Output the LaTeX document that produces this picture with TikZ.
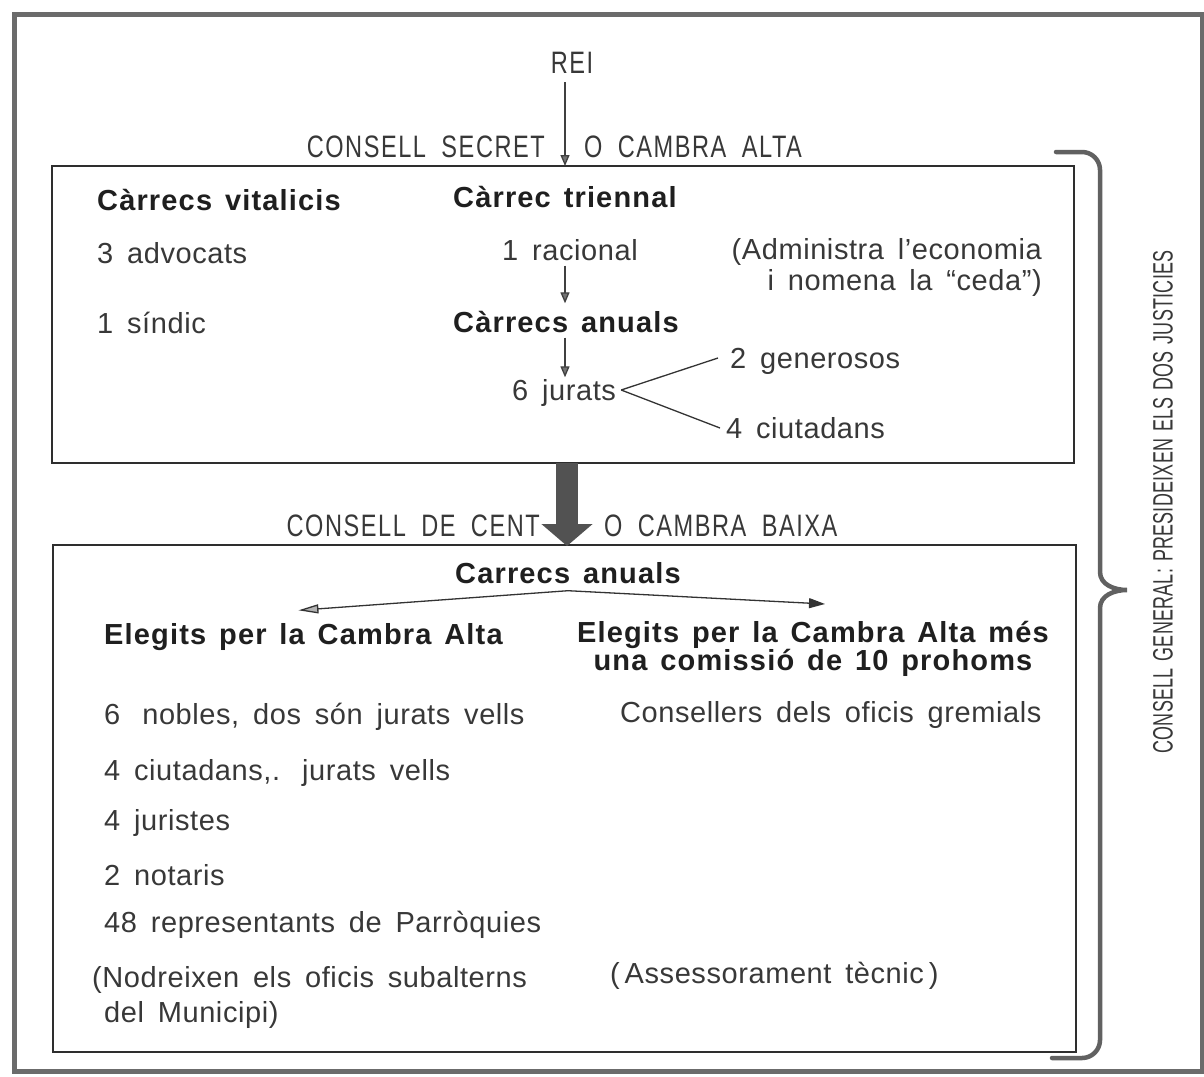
\documentclass[tikz,border=0pt]{standalone}
\usepackage{fontspec}
\setmainfont{Liberation Sans}
\newfontfamily\regf[LetterSpace=2,WordSpace=1.6]{Liberation Sans}
\newfontfamily\boldf[LetterSpace=4,WordSpace=1.4]{Liberation Sans}
\newfontfamily\condf[FakeStretch=0.76,LetterSpace=5,WordSpace=1.9]{Liberation Sans}
\newfontfamily\vertf[FakeStretch=0.64,LetterSpace=1,WordSpace=1.3]{Liberation Sans}
\usetikzlibrary{arrows.meta}
\begin{document}
\begin{tikzpicture}[x=1pt,y=-1pt,
  txt/.style={inner sep=0pt, anchor=west, text=black!78, text height=21pt, text depth=0pt,
    font=\regf\fontsize{29}{35}\selectfont},
  btxt/.style={inner sep=0pt, anchor=west, text=black!88, text height=21pt, text depth=0pt,
    font=\boldf\bfseries\fontsize{29}{28}\selectfont},
  ctxt/.style={inner sep=0pt, text=black!78, text height=22pt, text depth=0pt,
    font=\condf\fontsize{31}{31}\selectfont},
  boxline/.style={draw=black!82, line width=1.6pt},
  arr/.style={draw=black!75, line width=1.3pt, -{Triangle[length=11pt,width=9pt,fill=black!55]}},
]
\useasboundingbox (0,0) rectangle (1204,1076);
\fill[white] (0,0) rectangle (1204,1076);
% outer frame
\draw[draw=black!58, line width=5pt] (14,14) rectangle (1202,1071);
% boxes
\draw[boxline] (52,166) rectangle (1074,463);
\draw[boxline] (53,545) rectangle (1076,1052);
\coordinate (colx) at (565,0);
\coordinate (boxtop) at (565,166);
\coordinate (b1) at (567,463);
\coordinate (b2) at (567,546);

% top
\node[ctxt] (rei) at (572,62) {REI};
\node[ctxt, anchor=east] (cs) at (545,146) {CONSELL SECRET};
\node[ctxt, anchor=west] (oca) at (584,146) {O CAMBRA ALTA};
\draw[arr, shorten <=9pt] (rei.south -| colx) -- (boxtop);

% upper box
\node[btxt] (cv) at (97,200) {Càrrecs vitalicis};
\node[btxt] (ct) at (453,197) {Càrrec triennal};
\node[txt] (adv) at (97,253) {3 advocats};
\node[txt] (rac) at (502,250) {1 racional};
\node[inner sep=0pt, anchor=north east, align=right, text=black!78,
  font=\regf\fontsize{29}{31}\selectfont] (adm) at (1042,238) {(Administra l’economia\\i nomena la “ceda”)};
\node[txt] (sin) at (97,323) {1 síndic};
\node[btxt] (can) at (453,322) {Càrrecs anuals};
\node[txt] (jur) at (512,390) {6 jurats};
\node[txt] (gen) at (730,358) {2 generosos};
\node[txt] (ciu) at (726,428) {4 ciutadans};
\draw[arr, shorten <=5pt, shorten >=8pt] (rac.south -| colx) -- (can.north -| colx);
\draw[arr, shorten <=5pt, shorten >=2pt] (can.south -| colx) -- (jur.north -| colx);
\draw[draw=black!80, line width=1.3pt] ([xshift=5pt]jur.east) -- ([xshift=-12pt]gen.west);
\draw[draw=black!80, line width=1.3pt] ([xshift=5pt]jur.east) -- ([xshift=-6pt]ciu.west);

% big arrow
\draw[draw=black!68, line width=22pt, -{Triangle[length=22pt,width=50pt]}] (b1) -- (b2);
\node[ctxt, anchor=east] (cdc) at (540,525) {CONSELL DE CENT};
\node[ctxt, anchor=west] (ocb) at (604,525) {O CAMBRA BAIXA};

% lower box
\node[btxt, anchor=center] (ca2) at (568,573) {Carrecs anuals};
\node[btxt] (el1) at (104,634) {Elegits per la Cambra Alta};
\node[inner sep=0pt, anchor=north, align=center, text=black!88,
  font=\boldf\bfseries\fontsize{29}{28}\selectfont] (el2) at (813,621) {Elegits per la Cambra Alta més\\una comissió de 10 prohoms};
\draw[draw=black!80, line width=1.3pt, -{Triangle[length=20pt,width=9pt,fill=black!30]}]
  ([yshift=-7pt]ca2.south) -- ([xshift=-5pt,yshift=13pt]el1.north);
\draw[draw=black!80, line width=1.3pt, -{Triangle[length=16pt,width=10pt]}]
  ([yshift=-7pt]ca2.south) -- ([xshift=12pt,yshift=17pt]el2.north);

\node[txt] (n1) at (104,714) {6\hspace{22pt}nobles, dos són jurats vells};
\node[txt] (cons) at (620,712) {Consellers dels oficis gremials};
\node[txt] (n2) at (104,770) {4 ciutadans,.\hspace{22pt}jurats vells};
\node[txt] (n3) at (104,820) {4 juristes};
\node[txt] (n4) at (104,875) {2 notaris};
\node[txt] (n5) at (104,922) {48 representants de Parròquies};
\node[txt] (nod) at (92,977) {(Nodreixen els oficis subalterns};
\node[txt] (mun) at (104,1012) {del Municipi)};
\node[txt] (ass) at (610,973) {(\,Assessorament tècnic\,)};

% brace
\draw[draw=black!62, line width=4.5pt, line cap=round]
  (1056,152) -- (1082,152) to[out=0,in=90] (1100,170) -- (1100,572)
  to[out=-90,in=180] (1127,590) to[out=180,in=90] (1100,608)
  -- (1100,1040) to[out=-90,in=0] (1082,1058) -- (1052,1058);
\node[rotate=90, inner sep=0pt, text=black!78, font=\vertf\fontsize{28}{28}\selectfont]
  (cg) at (1163,502) {CONSELL GENERAL: PRESIDEIXEN ELS DOS JUSTICIES};
\end{tikzpicture}
\end{document}
